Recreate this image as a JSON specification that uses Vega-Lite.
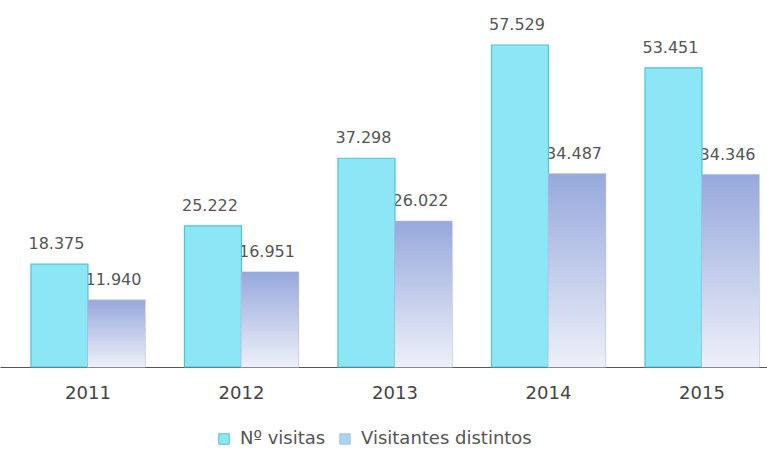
{
  "$schema": "https://vega.github.io/schema/vega-lite/v6.json",
  "width": 778,
  "height": 367,
  "autosize": {"type": "none"},
  "padding": {"left": 0, "top": 0, "right": 0, "bottom": 85},
  "background": "white",
  "config": {
    "view": {"stroke": null},
    "locale": {"number": {"decimal": ",", "thousands": ".", "grouping": [3], "currency": ["", "€"]}}
  },
  "data": {
    "values": [
      {"year": "2011", "serie": "Nº visitas", "value": 18375},
      {"year": "2011", "serie": "Visitantes distintos", "value": 11940},
      {"year": "2012", "serie": "Nº visitas", "value": 25222},
      {"year": "2012", "serie": "Visitantes distintos", "value": 16951},
      {"year": "2013", "serie": "Nº visitas", "value": 37298},
      {"year": "2013", "serie": "Visitantes distintos", "value": 26022},
      {"year": "2014", "serie": "Nº visitas", "value": 57529},
      {"year": "2014", "serie": "Visitantes distintos", "value": 34487},
      {"year": "2015", "serie": "Nº visitas", "value": 53451},
      {"year": "2015", "serie": "Visitantes distintos", "value": 34346}
    ]
  },
  "encoding": {
    "x": {
      "field": "year",
      "type": "nominal",
      "scale": {"paddingInner": 0.257, "paddingOuter": 0.1625, "align": 0.62},
      "axis": {
        "title": null,
        "labelAngle": 0,
        "ticks": false,
        "domainColor": "#555",
        "domainWidth": 1,
        "labelFont": "DejaVu Sans",
        "labelFontSize": 18,
        "labelColor": "#444",
        "labelPadding": 17,
        "grid": false
      }
    },
    "xOffset": {
      "field": "serie",
      "type": "nominal",
      "sort": ["Nº visitas", "Visitantes distintos"],
      "scale": {"paddingInner": 0, "paddingOuter": 0}
    },
    "y": {
      "field": "value",
      "type": "quantitative",
      "scale": {"domain": [0, 65570], "nice": false, "zero": true},
      "axis": null
    }
  },
  "layer": [
    {
      "mark": {"type": "text", "align": "left", "baseline": "alphabetic", "dx": -31, "dy": -15, "fontSize": 16, "font": "DejaVu Sans", "fill": "#555"},
      "encoding": {"text": {"field": "value", "type": "quantitative", "format": ",d"}}
    },
    {
      "mark": {"type": "bar", "strokeWidth": 1.2},
      "encoding": {
        "color": {
          "field": "serie",
          "type": "nominal",
          "scale": {"domain": ["Nº visitas", "Visitantes distintos"], "range": ["#8de6f5", "#a6d6ee"]},
          "legend": {
            "title": null,
            "orient": "none",
            "legendX": 215,
            "legendY": 430,
            "direction": "horizontal",
            "symbolType": "square",
            "symbolSize": 110,
            "symbolStrokeWidth": 1,
            "labelFont": "DejaVu Sans",
            "labelFontSize": 18,
            "labelColor": "#555",
            "labelOffset": 7,
            "labelLimit": 400,
            "columnSpacing": 26
          }
        },
        "stroke": {
          "field": "serie",
          "type": "nominal",
          "scale": {"domain": ["Nº visitas", "Visitantes distintos"], "range": ["#4fc3d8", "#b3bfe4"]},
          "legend": null
        }
      }
    },
    {
      "transform": [{"filter": "datum.serie === 'Visitantes distintos'"}],
      "mark": {
        "type": "bar",
        "fill": {
          "gradient": "linear",
          "x1": 0, "y1": 0, "x2": 0, "y2": 1,
          "stops": [
            {"offset": 0, "color": "#97a8dc"},
            {"offset": 1, "color": "#eef0f8"}
          ]
        }
      }
    }
  ]
}
